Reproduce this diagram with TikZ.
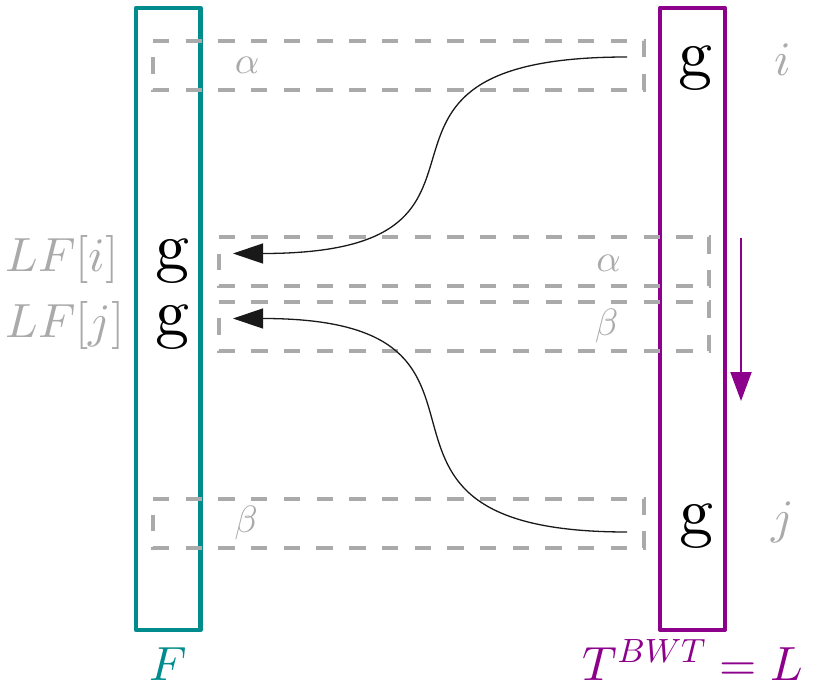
\RequirePackage{fix-cm}
\documentclass[tikz,border=0pt]{standalone}
\usetikzlibrary{arrows.meta}
\DeclareFontShape{OML}{cmm}{m}{it}{<->cmmi10}{}
\DeclareFontShape{OT1}{cmr}{m}{n}{<->cmr10}{}
\definecolor{tealc}{RGB}{0,140,140}
\definecolor{purp}{RGB}{140,0,140}
\definecolor{lgray}{RGB}{170,170,170}
\begin{document}
\begin{tikzpicture}[x=0.5pt,y=-0.5pt,
  column/.style={draw, line width=2.2pt, line join=round, minimum width=32.25pt, minimum height=311pt, inner sep=0pt, outer sep=0pt},
  win/.style={draw=lgray, line width=2pt, dash pattern=on 8.175pt off 8.175pt},
  glyph/.style={inner sep=0pt, font=\fontencoding{OT1}\fontfamily{cmr}\fontsize{34}{40}\selectfont},
  lab/.style={inner sep=0pt, text=lgray, font=\fontsize{24}{28}\selectfont},
  glab/.style={inner sep=0pt, text=lgray, font=\fontsize{19}{22}\selectfont},
  flow/.style={draw=black!90, line width=0.65pt, -{Triangle[length=15pt,width=10pt]}},
  order/.style={draw=purp, line width=1pt, -{Triangle[length=14.5pt,width=10.5pt]}}
]
\useasboundingbox (0,0) rectangle (823,689);

% columns
\node[column, draw=tealc] (F) at (168.25,319) {};
\node[column, draw=purp] (L) at (692.5,319) {};

% dashed windows
\draw[win] (153,41) -- ++(490.5,0) -- ++(0,49) -- ++(-490.5,0) -- cycle;
\draw[win] (218.5,237.5) -- ++(490.5,0) -- ++(0,49) -- ++(-490.5,0) -- cycle;
\draw[win] (218.5,302) -- ++(490.5,0) -- ++(0,49) -- ++(-490.5,0) -- cycle;
\draw[win] (153,498.5) -- ++(490.5,0) -- ++(0,49) -- ++(-490.5,0) -- cycle;

% window labels
\node[glab, anchor=base] (a1) at (247,74) {$\alpha$};
\node[glab, anchor=base] (a2) at (608.5,272) {$\alpha$};
\node[glab, anchor=base] (b2) at (606.5,335.5) {$\beta$};
\node[glab, anchor=base] (b1) at (246,532.5) {$\beta$};

% characters
\node[glyph, anchor=base] (gi) at (172,270) {g};
\node[glyph, anchor=base] (gj) at (172,335.5) {g};
\node[glyph, anchor=base] (Li) at (695,77) {g};
\node[glyph, anchor=base] (Lj) at (696,534) {g};

% side labels
\node[lab, anchor=base west] (lfi) at (5,271.5) {$LF[i]$};
\node[lab, anchor=base west] (lfj) at (5,337) {$LF[j]$};
\node[lab, anchor=base] (ii) at (783,76) {$i$};
\node[lab, anchor=base] (jj) at (783,533) {$j$};
\node[lab, text=tealc, anchor=base] (Fl) at (168,680) {$F$};
\node[lab, text=purp, anchor=base] (Ll) at (693,680) {$T^{BWT}=L$};

% connectors
\coordinate (s1) at (627,57);
\coordinate (e1) at (233,253.5);
\coordinate (s2) at (627,532);
\coordinate (e2) at (233,318.5);
\draw[flow] (s1) .. controls +(-320,0) and +(320,0) .. (e1);
\draw[flow] (s2) .. controls +(-320,0) and +(320,0) .. (e2);

\coordinate (d1) at (741,238);
\coordinate (d2) at (741,401);
\draw[order] (d1) -- (d2);
\end{tikzpicture}
\end{document}
